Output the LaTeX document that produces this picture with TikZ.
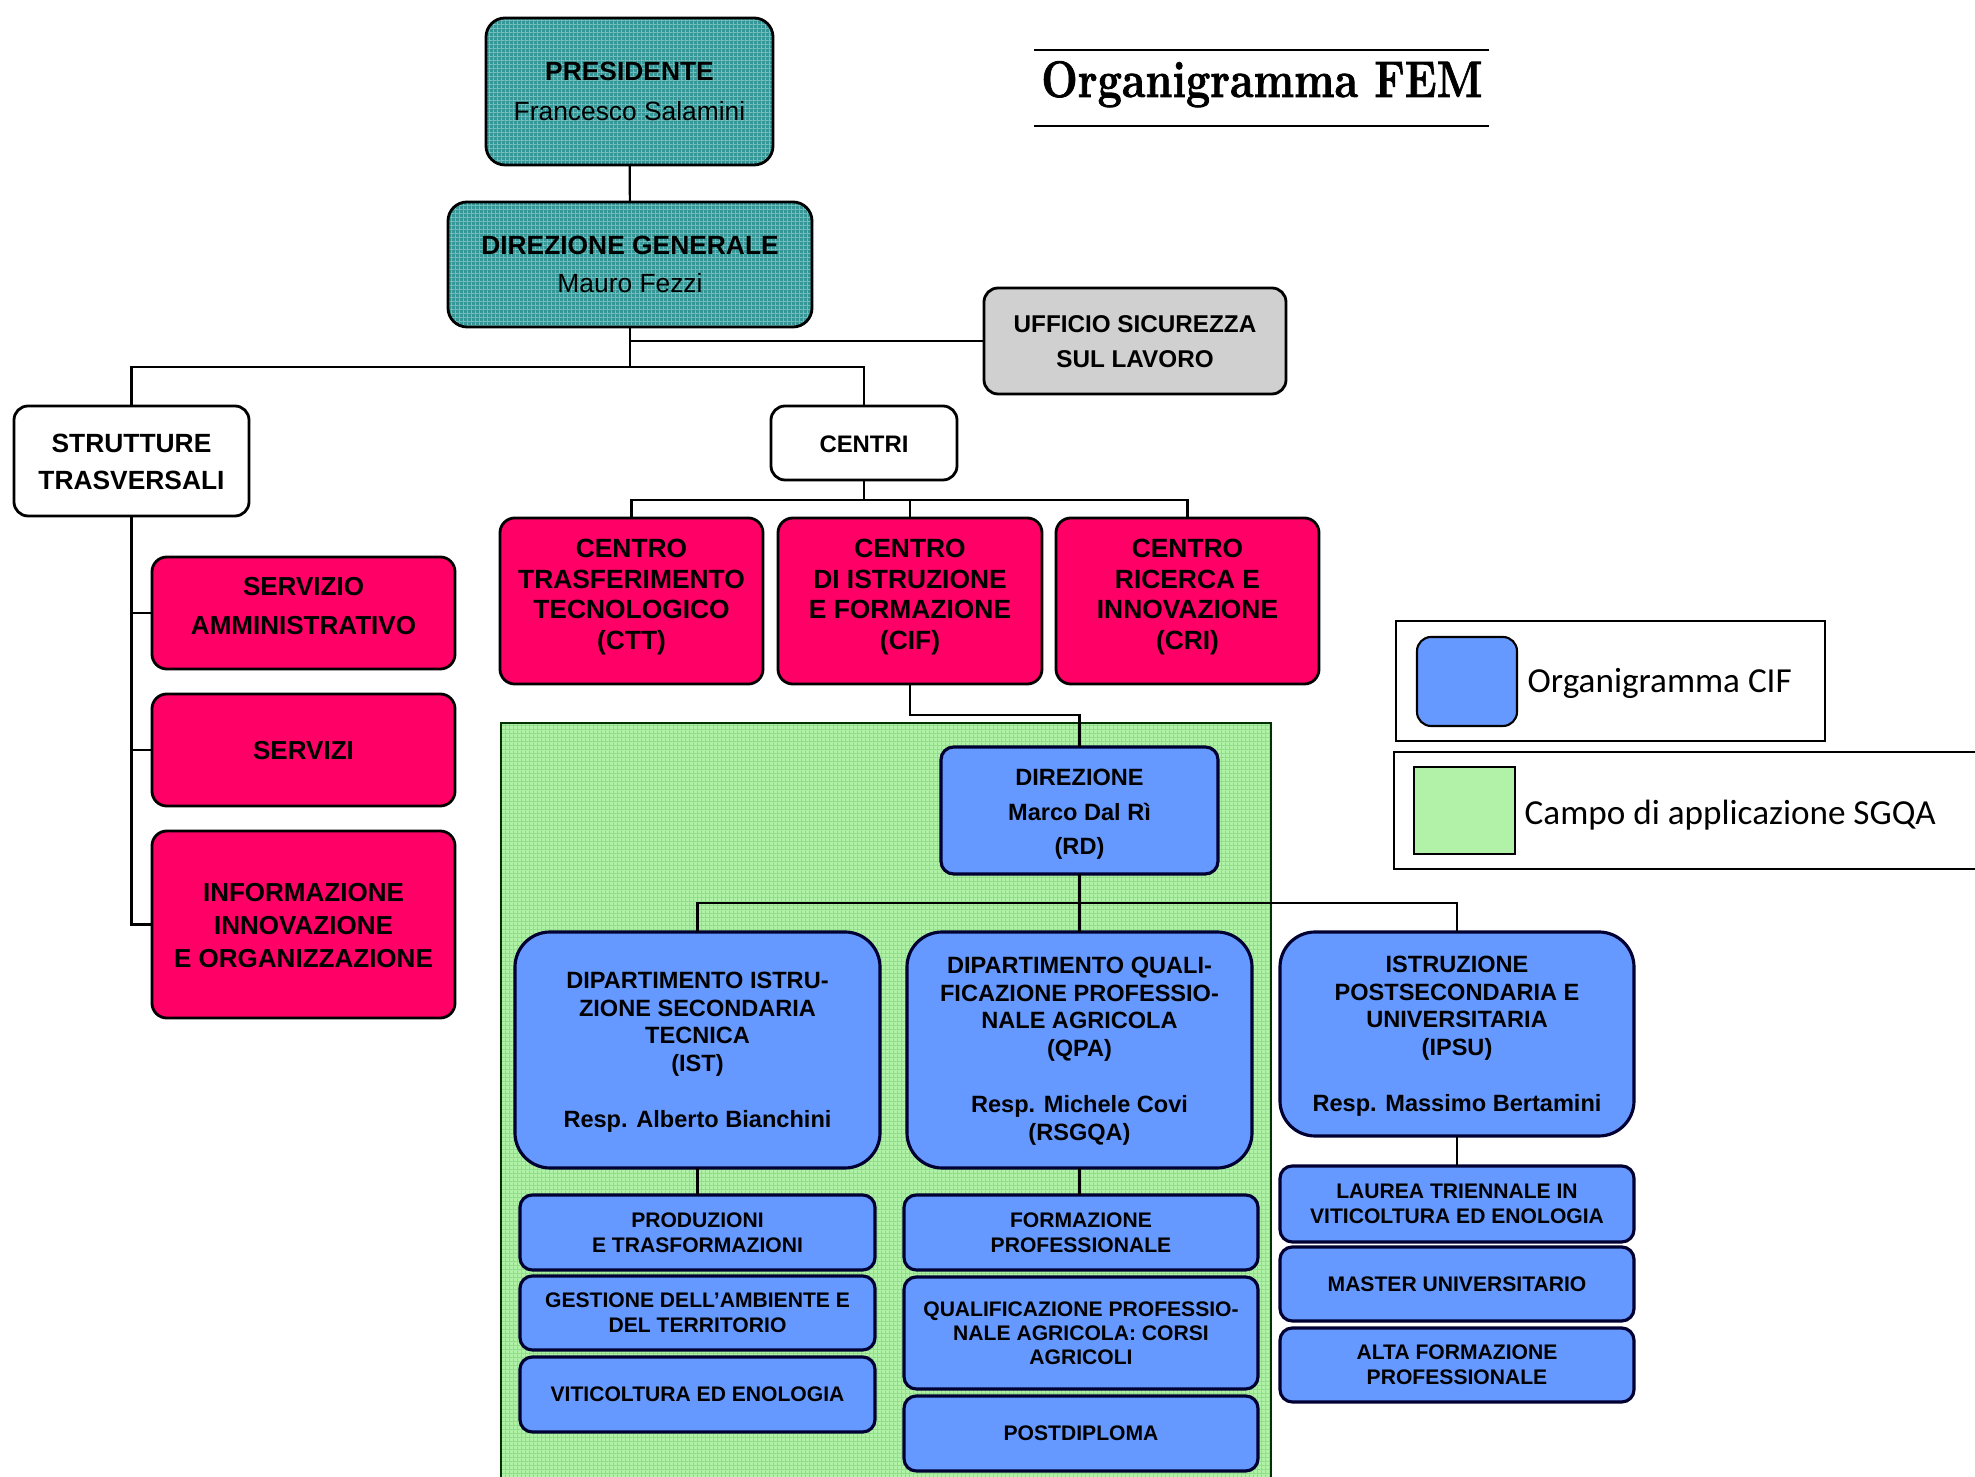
\documentclass[tikz,border=0pt]{standalone}
\usepackage{fontspec}
\newfontfamily\arial{Liberation Sans}
\newfontfamily\legfont{Carlito}
\newfontfamily\titlefont{Latin Modern Roman}[BoldFeatures={FakeBold=1.5}]
\usetikzlibrary{calc,patterns.meta}
\definecolor{teal1}{RGB}{52,150,150}
\definecolor{teal2}{RGB}{120,190,188}
\definecolor{red1}{RGB}{255,0,102}
\definecolor{blue1}{RGB}{102,153,255}
\definecolor{green1}{RGB}{178,242,168}
\definecolor{green2}{RGB}{140,222,132}
\definecolor{gray1}{RGB}{208,208,208}
\definecolor{navy1}{RGB}{0,0,51}
\pgfdeclarepattern{name=fgrid, type=uncolored,
  bottom left={\pgfpoint{0pt}{0pt}}, top right={\pgfpoint{1.2pt}{1.2pt}},
  tile size={\pgfpoint{1.2pt}{1.2pt}},
  code={\pgfsetlinewidth{0.25pt}%
    \pgfpathmoveto{\pgfpoint{0pt}{0.15pt}}\pgfpathlineto{\pgfpoint{1.2pt}{0.15pt}}%
    \pgfpathmoveto{\pgfpoint{0.15pt}{0pt}}\pgfpathlineto{\pgfpoint{0.15pt}{1.2pt}}%
    \pgfusepath{stroke}}}
\newcommand\bx[9]{%
 \pgfmathsetmacro\bxcx{(#2+#4)/2}\pgfmathsetmacro\bxcy{(#3+#5)/2}%
 \pgfmathsetmacro\bxty{(#3+#5)/2+(#8)}%
 \pgfmathsetmacro\bxw{(#4-#2)*0.01}\pgfmathsetmacro\bxh{(#5-#3)*0.01}%
 \node[#6, minimum width=\bxw cm, minimum height=\bxh cm] (#1) at (\bxcx,\bxcy) {};%
 \node[#7] (#1-t) at (\bxcx,\bxty) {#9};}
\tikzset{
 base/.style={inner sep=0pt, outer sep=0pt, line width=0.8pt, draw=black},
 tealbox/.style={base, preaction={fill=teal1}, pattern=fgrid, pattern color=teal2, rounded corners=5.4pt},
 graybox/.style={base, fill=gray1, rounded corners=4pt},
 whitebox/.style={base, fill=white, rounded corners=4pt},
 redbox/.style={base, fill=red1, rounded corners=4.2pt},
 bluebox/.style={base, fill=blue1, draw=navy1, line width=0.9pt, rounded corners=3.6pt},
 deptbox/.style={base, fill=blue1, draw=navy1, line width=0.9pt, rounded corners=10pt},
 subbox/.style={base, fill=blue1, draw=navy1, line width=0.9pt, rounded corners=3.5pt},
 txt/.style 2 args={align=center, inner sep=0pt, font=\arial\bfseries\fontsize{#1}{#2}\selectfont},
 conn/.style={line width=0.6pt, draw=black},
}
\begin{document}
\begin{tikzpicture}[x=0.01cm,y=-0.01cm]
\useasboundingbox (0,0) rectangle (1975,1477);
% green area
\fill[green1] (501,723) rectangle (1271,1490);
\fill[pattern=fgrid, pattern color=green2] (501,723) rectangle (1271,1490);
\draw[line width=0.5pt, draw=black!80!green] (501,1490) -- (501,723) -- (1271,723) -- (1271,1490);

% title
\draw[line width=0.6pt] (1034,50) -- (1489,50);
\draw[line width=0.6pt] (1034,126) -- (1489,126);
\node[anchor=base, inner sep=0pt] (title) at (1262,97) {\scalebox{0.84}[1]{\titlefont\fontsize{14.6}{17}\selectfont\bfseries Organigramma FEM}};

% boxes top
\bx{pres}{486}{18}{773}{165}{tealbox}{txt={7.5}{11.4}}{0}{PRESIDENTE\\\mdseries Francesco Salamini}
\bx{dirg}{448}{202}{812}{327}{tealbox}{txt={7.5}{10.8}}{0}{DIREZIONE GENERALE\\\mdseries Mauro Fezzi}
\bx{uff}{984}{288}{1286}{394}{graybox}{txt={6.9}{10}}{1}{UFFICIO SICUREZZA\\SUL LAVORO}
\bx{strut}{14}{406}{249}{516}{whitebox}{txt={7.5}{10.4}}{1}{STRUTTURE\\TRASVERSALI}
\bx{centri}{771}{406}{957}{480}{whitebox}{txt={6.8}{9}}{1}{CENTRI}

% red centres
\bx{ctt}{500}{518}{763}{684}{redbox}{txt={7.5}{8.7}}{-4}{CENTRO\\TRASFERIMENTO\\TECNOLOGICO\\(CTT)}
\bx{cif}{778}{518}{1042}{684}{redbox}{txt={7.5}{8.7}}{-4}{CENTRO\\DI ISTRUZIONE\\E FORMAZIONE\\(CIF)}
\bx{cri}{1056}{518}{1319}{684}{redbox}{txt={7.5}{8.7}}{-4}{CENTRO\\RICERCA E\\INNOVAZIONE\\(CRI)}

% red services
\bx{sa}{152}{557}{455}{669}{redbox}{txt={7.4}{11.1}}{-7}{SERVIZIO\\AMMINISTRATIVO}
\bx{serv}{152}{694}{455}{806}{redbox}{txt={7.4}{9.5}}{1}{SERVIZI}
\bx{info}{152}{831}{455}{1018}{redbox}{txt={7.4}{9.5}}{1}{INFORMAZIONE\\INNOVAZIONE\\E ORGANIZZAZIONE}

% CIF organigram
\bx{dir}{941}{747}{1218}{874}{bluebox}{txt={6.7}{9.85}}{4}{DIREZIONE\\Marco Dal Rì\\(RD)}
\bx{ist}{515}{932}{880}{1168}{deptbox}{txt={6.7}{7.9}}{2}{DIPARTIMENTO ISTRU-\\ZIONE SECONDARIA\\TECNICA\\(IST)\\[7.9pt]Resp. Alberto Bianchini}
\bx{qpa}{907}{932}{1252}{1168}{deptbox}{txt={6.7}{7.9}}{1}{DIPARTIMENTO QUALI-\\FICAZIONE PROFESSIO-\\NALE AGRICOLA\\(QPA)\\[7.9pt]Resp. Michele Covi\\(RSGQA)}
\bx{ipsu}{1280}{932}{1634}{1136}{deptbox}{txt={6.7}{7.9}}{2}{ISTRUZIONE\\POSTSECONDARIA E\\UNIVERSITARIA\\(IPSU)\\[7.9pt]Resp. Massimo Bertamini}

\bx{prod}{520}{1195}{875}{1270}{subbox}{txt={6.0}{7.1}}{0}{PRODUZIONI\\E TRASFORMAZIONI}
\bx{gest}{520}{1276}{875}{1350}{subbox}{txt={6.0}{7.1}}{0}{GESTIONE DELL’AMBIENTE E\\DEL TERRITORIO}
\bx{viti}{520}{1357}{875}{1432}{subbox}{txt={6.0}{7.1}}{0}{VITICOLTURA ED ENOLOGIA}
\bx{form}{904}{1195}{1258}{1270}{subbox}{txt={6.0}{7.1}}{0}{FORMAZIONE\\PROFESSIONALE}
\bx{qual}{904}{1277}{1258}{1389}{subbox}{txt={6.0}{6.8}}{0}{QUALIFICAZIONE PROFESSIO-\\NALE AGRICOLA: CORSI\\AGRICOLI}
\bx{post}{904}{1396}{1258}{1471}{subbox}{txt={6.0}{7.1}}{0}{POSTDIPLOMA}
\bx{laur}{1280}{1166}{1634}{1242}{subbox}{txt={6.0}{7.1}}{0}{LAUREA TRIENNALE IN\\VITICOLTURA ED ENOLOGIA}
\bx{mast}{1280}{1247}{1634}{1321}{subbox}{txt={6.0}{7.1}}{0}{MASTER UNIVERSITARIO}
\bx{alta}{1280}{1328}{1634}{1402}{subbox}{txt={6.0}{7.1}}{0}{ALTA FORMAZIONE\\PROFESSIONALE}

% connectors
\coordinate (j1) at (630,367);
\coordinate (j2) at (864,500);
\coordinate (j3) at (1079.5,715);
\coordinate (j4) at (1079.5,903);
\draw[conn] (pres) -- (dirg);
\draw[conn] (dirg.south) -- (j1);
\draw[conn] (dirg.south |- uff.west) -- (uff.west);
\draw[conn] (strut.north) |- (j1) -| (centri.north);
\draw[conn] (centri.south) -- (j2);
\draw[conn] (ctt.north) |- (j2) -| (cri.north);
\draw[conn] (cif.north) -- (cif.north |- j2);
\draw[conn] (strut.south) |- (info.west);
\draw[conn] (strut.south |- sa.west) -- (sa.west);
\draw[conn] (strut.south |- serv.west) -- (serv.west);
\draw[conn] (cif.south) |- (j3) -- (dir.north);
\draw[conn] (dir.south) -- (qpa.north);
\draw[conn] (ist.north) |- (j4) -| (ipsu.north);
\draw[conn] (ist.south) -- (prod.north);
\draw[conn] (qpa.south) -- (qpa.south |- form.north);
\draw[conn] (ipsu.south) -- (laur.north);

% legend
\draw[line width=0.6pt, fill=white] (1396,621) rectangle (1825,741);
\draw[line width=0.6pt, fill=blue1, rounded corners=4pt] (1417,637) rectangle (1517,726);
\node[anchor=base west, inner sep=0pt, font=\legfont\fontsize{10}{12}\selectfont] (leg1) at (1527,693) {Organigramma CIF};
\draw[line width=0.6pt, fill=white] (1394,752) rectangle (1990,869);
\draw[line width=0.6pt, fill=green1] (1414,767) rectangle (1515,854);
\node[anchor=base west, inner sep=0pt, font=\legfont\fontsize{10}{12}\selectfont] (leg2) at (1524,825) {Campo di applicazione SGQA};
\end{tikzpicture}
\end{document}
